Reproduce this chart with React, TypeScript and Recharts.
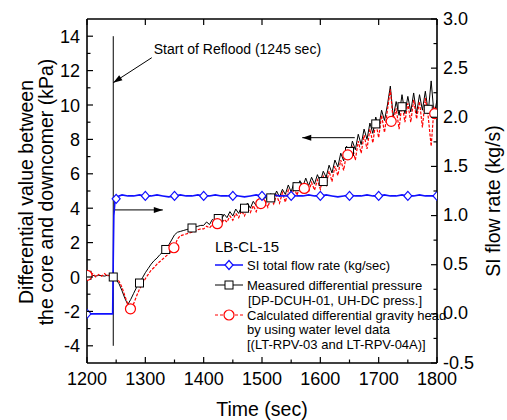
import React from 'react';
import { ComposedChart, Line, XAxis, YAxis, ReferenceLine } from 'recharts';

// plot box in page pixels
const PL = 87;
const PR = 437;
const PT = 19;
const PB = 363;
const FONT = '"Liberation Sans", Arial, Helvetica, sans-serif';

const xTicks = [1200, 1250, 1300, 1350, 1400, 1450, 1500, 1550, 1600, 1650, 1700, 1750, 1800];
const topTicks = [1200, 1300, 1400, 1500, 1600, 1700, 1800];
const yLeftTicks = [-4, -3, -2, -1, 0, 1, 2, 3, 4, 5, 6, 7, 8, 9, 10, 11, 12, 13, 14];
const yRightTicks = [-0.5, -0.25, 0, 0.25, 0.5, 0.75, 1, 1.25, 1.5, 1.75, 2, 2.25, 2.5, 2.75, 3];

// sampling grid of the two pressure signals: 1200..1800 s every 5 s
const T0 = 1200;
const DT = 5;

// measured differential pressure DP-DCUH-01 (kPa)
const measured = [
  0.10, 0.05, 0.10, 0.05, 0.10, 0.08, 0.05, 0.10, 0.05, 0.00,
  -0.15, -0.40, -0.80, -1.25, -1.60, -1.30, -0.95, -0.60, -0.35, -0.05,
  0.25, 0.50, 0.75, 0.95, 1.10, 1.30, 1.45, 1.60, 1.85, 2.15,
  2.45, 2.60, 2.65, 2.70, 2.75, 2.80, 2.85, 2.90, 2.95, 3.00,
  3.00, 3.20, 3.05, 3.35, 3.20, 3.45, 3.30, 3.65, 3.45, 3.80,
  3.55, 3.95, 3.70, 4.10, 3.90, 4.30, 4.00, 4.40, 4.15, 4.55,
  4.25, 4.70, 4.40, 4.85, 4.55, 5.00, 4.65, 5.10, 4.80, 5.35,
  4.95, 5.50, 5.15, 5.60, 5.25, 5.75, 5.30, 5.80, 5.40, 5.95,
  5.55, 6.15, 5.80, 6.50, 6.05, 6.80, 6.40, 7.20, 6.75, 7.60,
  7.10, 7.90, 7.40, 8.30, 7.70, 8.60, 8.00, 8.95, 8.35, 9.30,
  8.70, 9.70, 9.10, 10.00, 11.10, 9.30, 10.20, 9.40, 10.60, 9.50,
  10.50, 9.60, 10.70, 9.50, 10.60, 9.70, 10.80, 9.60, 11.40, 9.40,
  10.30,
];

// calculated gravity head from water levels (kPa)
const calculated = [
  0.15, 0.05, 0.20, 0.00, 0.15, 0.05, 0.20, 0.05, 0.15, 0.10,
  -0.10, -0.25, -0.60, -1.10, -1.60, -1.85, -1.55, -1.10, -0.70, -0.40,
  -0.10, 0.15, 0.40, 0.55, 0.75, 0.90, 1.05, 1.20, 1.35, 1.55,
  1.75, 2.20, 2.40, 2.45, 2.50, 2.55, 2.60, 2.65, 2.75, 2.80,
  2.80, 2.95, 2.85, 3.05, 3.00, 3.20, 3.05, 3.35, 3.20, 3.55,
  3.30, 3.70, 3.45, 3.85, 3.55, 4.00, 3.75, 4.15, 3.80, 4.30,
  4.25, 4.45, 4.05, 4.60, 4.25, 4.75, 4.30, 4.90, 4.35, 5.05,
  4.55, 5.20, 4.75, 5.30, 4.90, 5.15, 4.95, 5.50, 5.05, 5.65,
  5.10, 5.85, 5.35, 6.15, 5.55, 6.45, 5.90, 6.80, 6.20, 7.20,
  7.10, 7.55, 6.80, 7.90, 7.20, 8.25, 7.45, 8.60, 7.80, 9.00,
  8.10, 9.40, 8.40, 9.70, 10.90, 9.05, 9.80, 8.60, 10.10, 9.00,
  10.10, 9.00, 10.30, 9.20, 10.20, 8.70, 10.40, 9.30, 7.60, 9.90,
  9.20,
];

// SI total flow rate (kg/s), right axis
const siTime = [
  1200, 1244, 1245, 1246, 1248, 1250, 1255,
  1260, 1270, 1280, 1290, 1300, 1310, 1320, 1330, 1340, 1350,
  1360, 1370, 1380, 1390, 1400, 1410, 1420, 1430, 1440, 1450,
  1460, 1470, 1480, 1490, 1500, 1510, 1520, 1530, 1540, 1550,
  1560, 1570, 1580, 1590, 1600, 1610, 1620, 1630, 1640, 1650,
  1660, 1670, 1680, 1690, 1700, 1710, 1720, 1730, 1740, 1750,
  1760, 1770, 1780, 1790, 1800,
];
const siFlow = [
  0, 0, 0.55, 1.0, 1.15, 1.18, 1.2,
  1.21, 1.2, 1.2, 1.21, 1.2, 1.2, 1.21, 1.2, 1.19, 1.2,
  1.21, 1.2, 1.2, 1.21, 1.2, 1.2, 1.21, 1.2, 1.2, 1.21,
  1.2, 1.19, 1.2, 1.21, 1.2, 1.2, 1.21, 1.2, 1.2, 1.21,
  1.2, 1.2, 1.21, 1.2, 1.2, 1.21, 1.2, 1.19, 1.2, 1.21,
  1.2, 1.2, 1.21, 1.2, 1.2, 1.21, 1.2, 1.2, 1.21, 1.2,
  1.2, 1.21, 1.2, 1.2, 1.2,
];

// marker positions of each series
const siMarkTime = [1200, 1250, 1300, 1350, 1400, 1450, 1500, 1550, 1600, 1650, 1700, 1750, 1800];
const siMarkVal = [0, 1.17, 1.2, 1.2, 1.2, 1.2, 1.2, 1.2, 1.2, 1.2, 1.2, 1.2, 1.2];
const measMarkTime = [1200, 1245, 1290, 1335, 1380, 1425, 1470, 1515, 1560, 1605, 1650, 1695, 1740, 1785];
const measMarkVal = [0.10, 0.00, -0.35, 1.60, 2.85, 3.40, 4.00, 4.60, 5.25, 5.55, 7.30, 8.90, 9.90, 9.75];
const calcMarkTime = [1200, 1274.5, 1349, 1423.5, 1498, 1572.5, 1647, 1721.5, 1796];
const calcMarkVal = [0.10, -1.85, 1.70, 3.10, 4.27, 5.15, 7.10, 9.05, 9.50];

const grid = (vals: number[]) => vals.map((v, i) => ({ t: T0 + i * DT, v }));
const pairs = (ts: number[], vs: number[]) => ts.map((t, i) => ({ t, v: vs[i] }));

const measData = grid(measured);
const calcData = grid(calculated);
const siData = pairs(siTime, siFlow);
const siMarks = pairs(siMarkTime, siMarkVal);
const measMarks = pairs(measMarkTime, measMarkVal);
const calcMarks = pairs(calcMarkTime, calcMarkVal);

const BLUE = '#1010ff';
const RED = '#ff0000';

const XTick = (p: any) => {
  const v = p.payload.value;
  const major = v % 100 === 0;
  return (
    <g>
      <line x1={p.x} x2={p.x} y1={PB} y2={PB - (major ? 6 : 3.5)} stroke="#000" strokeWidth={1.2} />
      {major && (
        <text x={p.x} y={PB + 22} textAnchor="middle" fontSize={18} fontFamily={FONT} fill="#000">
          {v}
        </text>
      )}
    </g>
  );
};

const TopTick = (p: any) => (
  <line x1={p.x} x2={p.x} y1={PT} y2={PT + 6} stroke="#000" strokeWidth={1.2} />
);

const YLTick = (p: any) => {
  const v = p.payload.value;
  const major = v % 2 === 0;
  return (
    <g>
      <line x1={PL} x2={PL + (major ? 6 : 3.5)} y1={p.y} y2={p.y} stroke="#000" strokeWidth={1.2} />
      {major && (
        <text x={80} y={p.y + 6.5} textAnchor="end" fontSize={18} fontFamily={FONT} fill="#000">
          {v}
        </text>
      )}
    </g>
  );
};

const YRTick = (p: any) => {
  const v = p.payload.value;
  const major = Math.abs(v * 2 - Math.round(v * 2)) < 1e-6;
  return (
    <g>
      <line x1={PR} x2={PR - (major ? 6 : 3.5)} y1={p.y} y2={p.y} stroke="#000" strokeWidth={1.2} />
      {major && (
        <text x={443} y={p.y + 5.5} textAnchor="start" fontSize={18} fontFamily={FONT} fill="#000">
          {v.toFixed(1)}
        </text>
      )}
    </g>
  );
};

const arrowHead = (x1: number, y1: number, x2: number, y2: number) => {
  const a = Math.atan2(y2 - y1, x2 - x1);
  const L = 9;
  const W = 3;
  const bx = x2 - L * Math.cos(a);
  const by = y2 - L * Math.sin(a);
  const px = -Math.sin(a) * W;
  const py = Math.cos(a) * W;
  return `${x2},${y2} ${bx + px},${by + py} ${bx - px},${by - py}`;
};

const Arrow = (p: any) => (
  <g>
    <line x1={p.x1} y1={p.y1} x2={p.x2} y2={p.y2} stroke="#000" strokeWidth={1} />
    <polygon points={arrowHead(p.x1, p.y1, p.x2, p.y2)} fill="#000" />
  </g>
);

const RefloodArrow = (p: any) => (
  <g>
    <Arrow {...p} />
    <text x={p.x1 + 2} y={p.y1 - 4} fontSize={14} fontFamily={FONT} fill="#000">
      Start of Reflood (1245 sec)
    </text>
  </g>
);

const Diamond = ({ cx, cy }: { cx: number; cy: number }) => (
  <polygon
    points={`${cx},${cy - 4.5} ${cx + 4},${cy} ${cx},${cy + 4.5} ${cx - 4},${cy}`}
    fill="#fff"
    stroke={BLUE}
    strokeWidth={1.2}
  />
);
const Square = ({ cx, cy }: { cx: number; cy: number }) => (
  <rect x={cx - 4} y={cy - 4} width={8} height={8} fill="#fff" stroke="#000" strokeWidth={1} />
);
const Circle = ({ cx, cy }: { cx: number; cy: number }) => (
  <circle cx={cx} cy={cy} r={5} fill="#fff" stroke={RED} strokeWidth={1.2} />
);

const Legend = () => (
  <g fontFamily={FONT} fill="#000">
    <text x={215} y={252} fontSize={15}>LB-CL-15</text>
    <line x1={215} x2={243} y1={265} y2={265} stroke={BLUE} strokeWidth={1.5} />
    <Diamond cx={229} cy={265} />
    <text x={247} y={269.5} fontSize={13}>SI total flow rate  (kg/sec)</text>
    <line x1={215} x2={243} y1={285} y2={285} stroke="#000" strokeWidth={1} />
    <Square cx={229} cy={285} />
    <text x={247} y={289.5} fontSize={13}>Measured differential pressure</text>
    <text x={248} y={305} fontSize={13}>[DP-DCUH-01, UH-DC press.]</text>
    <line x1={215} x2={243} y1={315} y2={315} stroke={RED} strokeWidth={1} strokeDasharray="3 2" />
    <Circle cx={229} cy={315} />
    <text x={247} y={319.5} fontSize={13}>Calculated differential gravity head</text>
    <text x={247} y={334} fontSize={13}>by using water level data</text>
    <text x={247} y={348.5} fontSize={13}>[(LT-RPV-03 and LT-RPV-04A)]</text>
  </g>
);

const axisStroke = { stroke: '#000', strokeWidth: 1.6 };

export default function App() {
  return (
    <div style={{ position: 'absolute', left: 0, top: 0, width: 507, height: 420, background: '#fff' }}>
      <ComposedChart width={507} height={420} margin={{ top: 0, right: 0, bottom: 0, left: 0 }}>
        <XAxis
          xAxisId="b"
          dataKey="t"
          type="number"
          domain={[1200, 1800]}
          ticks={xTicks}
          interval={0}
          tick={XTick}
          tickLine={false}
          axisLine={axisStroke}
          height={57}
          allowDataOverflow
        />
        <XAxis
          xAxisId="top"
          orientation="top"
          dataKey="t"
          type="number"
          domain={[1200, 1800]}
          ticks={topTicks}
          interval={0}
          tick={TopTick}
          tickLine={false}
          axisLine={axisStroke}
          height={19}
          allowDataOverflow
        />
        <YAxis
          yAxisId="left"
          type="number"
          domain={[-5, 15]}
          ticks={yLeftTicks}
          interval={0}
          tick={YLTick}
          tickLine={false}
          axisLine={axisStroke}
          width={87}
          allowDataOverflow
        />
        <YAxis
          yAxisId="right"
          orientation="right"
          type="number"
          domain={[-0.5, 3]}
          ticks={yRightTicks}
          interval={0}
          tick={YRTick}
          tickLine={false}
          axisLine={axisStroke}
          width={70}
          allowDataOverflow
        />

        <ReferenceLine
          xAxisId="b"
          yAxisId="left"
          segment={[{ x: 1245, y: 14 }, { x: 1245, y: -4 }]}
          stroke="#000"
          strokeWidth={1}
          ifOverflow="visible"
        />

        <Line xAxisId="b" yAxisId="left" data={measData} dataKey="v" stroke="#000" strokeWidth={1}
          dot={false} activeDot={false} isAnimationActive={false} />
        <Line xAxisId="b" yAxisId="left" data={calcData} dataKey="v" stroke={RED} strokeWidth={1.2}
          strokeDasharray="3 1.5" dot={false} activeDot={false} isAnimationActive={false} />
        <Line xAxisId="b" yAxisId="left" data={measMarks} dataKey="v" stroke="none" activeDot={false}
          isAnimationActive={false} dot={(p: any) => <Square key={`sq${p.index}`} cx={p.cx} cy={p.cy} />} />
        <Line xAxisId="b" yAxisId="left" data={calcMarks} dataKey="v" stroke="none" activeDot={false}
          isAnimationActive={false} dot={(p: any) => <Circle key={`ci${p.index}`} cx={p.cx} cy={p.cy} />} />
        <Line xAxisId="b" yAxisId="right" data={siData} dataKey="v" stroke={BLUE} strokeWidth={1.6}
          dot={false} activeDot={false} isAnimationActive={false} />
        <Line xAxisId="b" yAxisId="right" data={siMarks} dataKey="v" stroke="none" activeDot={false}
          isAnimationActive={false} dot={(p: any) => <Diamond key={`dm${p.index}`} cx={p.cx} cy={p.cy} />} />

        <ReferenceLine
          xAxisId="b"
          yAxisId="left"
          segment={[{ x: 1311, y: 12.75 }, { x: 1245, y: 11.3 }]}
          ifOverflow="visible"
          shape={RefloodArrow}
        />
        <ReferenceLine
          xAxisId="b"
          yAxisId="left"
          segment={[{ x: 1659, y: 8.1 }, { x: 1569, y: 8.1 }]}
          ifOverflow="visible"
          shape={Arrow}
        />
        <ReferenceLine
          xAxisId="b"
          yAxisId="left"
          segment={[{ x: 1248, y: 3.9 }, { x: 1330, y: 3.9 }]}
          ifOverflow="visible"
          shape={Arrow}
        />

        <Legend />

        <text x={262} y={416} textAnchor="middle" fontSize={19.5} fontFamily={FONT} fill="#000">
          Time (sec)
        </text>
        <text x={33} y={192} transform="rotate(-90 33 192)" textAnchor="middle" fontSize={19.5}
          fontFamily={FONT} fill="#000">
          Differential value between
        </text>
        <text x={53} y={192} transform="rotate(-90 53 192)" textAnchor="middle" fontSize={19.5}
          fontFamily={FONT} fill="#000">
          the core and downcomer (kPa)
        </text>
        <text x={500} y={201} transform="rotate(-90 500 201)" textAnchor="middle" fontSize={19.5}
          fontFamily={FONT} fill="#000">
          SI flow rate (kg/s)
        </text>
      </ComposedChart>
    </div>
  );
}
